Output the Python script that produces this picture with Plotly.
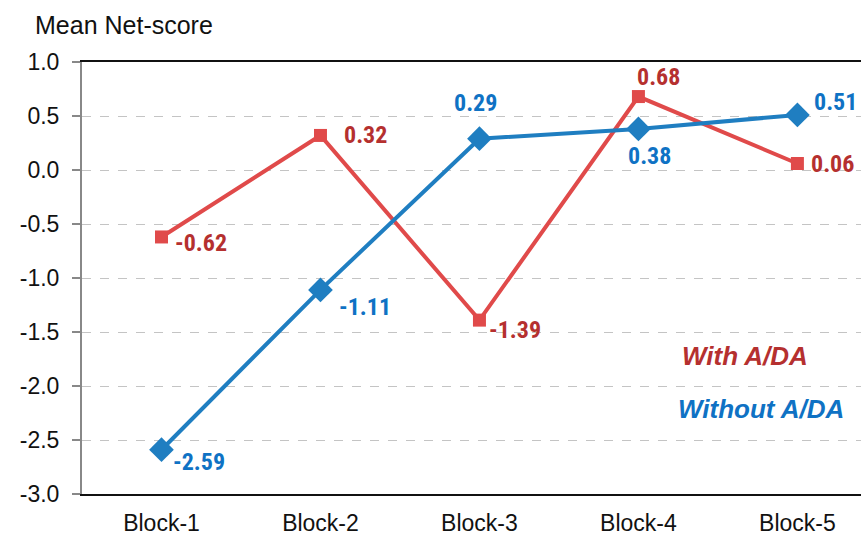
import plotly.graph_objects as go

categories = ["Block-1", "Block-2", "Block-3", "Block-4", "Block-5"]
with_ada = [-0.62, 0.32, -1.39, 0.68, 0.06]
without_ada = [-2.59, -1.11, 0.29, 0.38, 0.51]
y_ticks = [1.0, 0.5, 0.0, -0.5, -1.0, -1.5, -2.0, -2.5, -3.0]

RED_LINE = "#E04A4A"
RED_TEXT = "#B5302F"
BLUE_LINE = "#1F7EC1"
BLUE_TEXT = "#0F72C4"
LBL_FONT = "Liberation Sans Narrow, Arial Narrow, Roboto Condensed, Liberation Sans, sans-serif"
BASE_FONT = "Liberation Sans, Arial, sans-serif"

fig = go.Figure()
fig.add_trace(go.Scatter(x=categories, y=with_ada, mode="lines+markers", name="With A/DA",
                         line=dict(color=RED_LINE, width=4),
                         marker=dict(symbol="square", size=13, color=RED_LINE)))
fig.add_trace(go.Scatter(x=categories, y=without_ada, mode="lines+markers", name="Without A/DA",
                         line=dict(color=BLUE_LINE, width=4),
                         marker=dict(symbol="diamond", size=19, color=BLUE_LINE)))

# label offsets (xshift, yshift, xanchor)
red_off = [(12, -6, "left"), (22, 0, "left"), (8, -10, "left"), (-3, 20, "left"), (12, 0, "left")]
blue_off = [(10, -12, "left"), (17, -17, "left"), (-4, 36, "center"), (11, -27, "center"), (15, 13, "left")]

for cat, v, (dx, dy, xa) in zip(categories, with_ada, red_off):
    fig.add_annotation(x=cat, y=v, text=f"{v:.2f}", showarrow=False, xanchor=xa,
                       xshift=dx, yshift=dy, font=dict(family=LBL_FONT, size=24, color=RED_TEXT, weight="bold"))
for cat, v, (dx, dy, xa) in zip(categories, without_ada, blue_off):
    fig.add_annotation(x=cat, y=v, text=f"{v:.2f}", showarrow=False, xanchor=xa,
                       xshift=dx, yshift=dy, font=dict(family=LBL_FONT, size=24, color=BLUE_TEXT, weight="bold"))

fig.add_annotation(xref="paper", yref="paper", x=0.851, y=0.28, text="<b><i>With A/DA</i></b>",
                   showarrow=False, xanchor="center", font=dict(family=BASE_FONT, size=26, color=RED_TEXT))
fig.add_annotation(xref="paper", yref="paper", x=0.872, y=0.158, text="<b><i>Without A/DA</i></b>",
                   showarrow=False, xanchor="center", font=dict(family=BASE_FONT, size=26, color=BLUE_TEXT))
fig.add_annotation(xref="paper", yref="paper", x=-0.063, y=1.0, yshift=37, text="Mean Net-score",
                   showarrow=False, xanchor="left", yanchor="middle",
                   font=dict(family=BASE_FONT, size=25, color="#111111"))

fig.update_layout(
    width=861, height=538,
    margin=dict(l=82, r=0, t=62, b=44),
    plot_bgcolor="white", paper_bgcolor="white",
    showlegend=False,
    font=dict(family=BASE_FONT, size=22, color="#111111"),
)
fig.update_xaxes(range=[-0.5, 4.4], showgrid=False, showline=True, linecolor="#111111", linewidth=1.5,
                 mirror=True, ticks="", tickfont=dict(size=23), ticklabelstandoff=8)
fig.update_yaxes(range=[-3.0, 1.0], tickvals=y_ticks, ticktext=[f"{t:.1f}" for t in y_ticks],
                 showgrid=True, gridcolor="#C4C4C4", griddash="dash", gridwidth=1,
                 showline=True, linecolor="#888888", linewidth=2, ticks="outside", ticklen=8,
                 tickcolor="#888888", tickwidth=1.5, tickfont=dict(size=23), zeroline=False,
                 ticklabelstandoff=8)

fig.write_html("out.html", config={"displayModeBar": False},
               post_script="document.body.style.margin='0';document.body.style.overflow='hidden';")
